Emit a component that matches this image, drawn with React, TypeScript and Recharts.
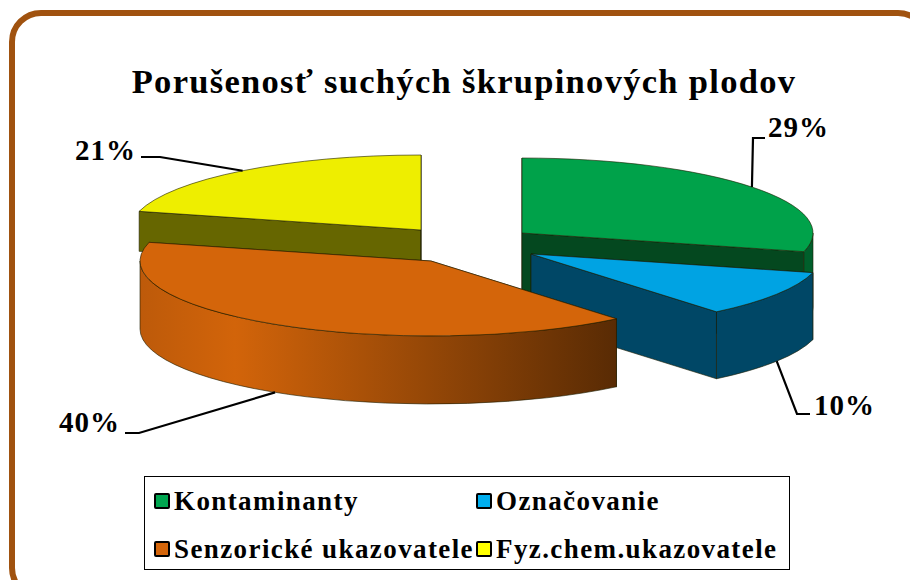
import { Legend, Pie, PieChart } from "recharts";

const CATEGORIES = ["Kontaminanty", "Označovanie", "Senzorické ukazovatele", "Fyz.chem.ukazovatele"];
const SHARES = [29, 10, 40, 21];

// the yellow slice is painted first, so it goes first in the table and the start angle moves back by its share
const PAINT_ORDER = [3, 0, 1, 2];
const TOTAL = SHARES.reduce((a, b) => a + b, 0);
const START_ANGLE = 90 + (360 * SHARES[3]) / TOTAL;
const tableData = PAINT_ORDER.map((i) => ({ name: CATEGORIES[i], value: SHARES[i] }));

const FONT = "'Liberation Serif', serif";
const CX = 475;
const CY = 260;
const RX = 291;
const RY = 75;

type SliceStyle = {
  top: string;
  wall: string;
  cut: string;
  swatch: string;
  dx: number;
  dy: number;
  depth: number;
  leader: [number, number][];
  text: [number, number];
  anchor: "start" | "end";
};

const STYLES: Record<string, SliceStyle> = {
  Kontaminanty: {
    top: "#00a24a", wall: "#005f2b", cut: "#04481f", swatch: "#00a650",
    dx: 47, dy: -27, depth: 74,
    leader: [[753, 138], [765, 138]], text: [768, 130], anchor: "start",
  },
  Označovanie: {
    top: "#00a3e3", wall: "#004766", cut: "#004766", swatch: "#00aeef",
    dx: 56, dy: -6, depth: 67,
    leader: [[797, 414], [810, 414]], text: [814, 408], anchor: "start",
  },
  "Senzorické ukazovatele": {
    top: "#d4650a", wall: "url(#orangeWall)", cut: "#8a4306", swatch: "#d4650a",
    dx: -44, dy: 1, depth: 68,
    leader: [[139, 433], [125, 433]], text: [120, 425], anchor: "end",
  },
  "Fyz.chem.ukazovatele": {
    top: "#eeee00", wall: "#666600", cut: "#666600", swatch: "#ffff00",
    dx: -54, dy: -30, depth: 40,
    leader: [[160, 157], [141, 157]], text: [136, 153], anchor: "end",
  },
};

const LEGEND_ROWS = [
  [0, 1],
  [2, 3],
];

const rad = (deg: number) => (deg * Math.PI) / 180;
const onEllipse = (x: number, y: number, a: number) => [x + RX * Math.cos(rad(a)), y - RY * Math.sin(rad(a))];

// flattens the sector the library computed into a slab seen from above
const SlabSector = (props: any) => {
  const { startAngle, endAngle, name } = props;
  const s = STYLES[name];
  const x = CX + s.dx;
  const y = CY + s.dy;
  const d = s.depth;
  const [x1, y1] = onEllipse(x, y, startAngle);
  const [x2, y2] = onEllipse(x, y, endAngle);
  const large = startAngle - endAngle > 180 ? 1 : 0;
  const line = "#1c1c00";

  const cut = (px: number, py: number) => `M${x},${y}L${px},${py}L${px},${py + d}L${x},${y + d}Z`;

  // only the part of the rim that faces the viewer
  const walls: string[] = [];
  for (const k of [-360, 0, 360]) {
    const hi = Math.min(startAngle, k);
    const lo = Math.max(endAngle, k - 180);
    if (hi > lo) {
      const [ax, ay] = onEllipse(x, y, hi);
      const [bx, by] = onEllipse(x, y, lo);
      walls.push(
        `M${ax},${ay}A${RX},${RY} 0 0 1 ${bx},${by}L${bx},${by + d}A${RX},${RY} 0 0 0 ${ax},${ay + d}Z`,
      );
    }
  }

  return (
    <g>
      <path d={cut(x1, y1)} fill={s.cut} stroke={line} strokeWidth={0.6} />
      <path d={cut(x2, y2)} fill={s.cut} stroke={line} strokeWidth={0.6} />
      {walls.map((w) => (
        <path key={w} d={w} fill={s.wall} stroke={line} strokeWidth={0.6} />
      ))}
      <path
        d={`M${x},${y}L${x1},${y1}A${RX},${RY} 0 ${large} 1 ${x2},${y2}Z`}
        fill={s.top}
        stroke={line}
        strokeWidth={0.6}
      />
    </g>
  );
};

const LeaderLabel = (props: any) => {
  const { midAngle, name, value } = props;
  const s = STYLES[name];
  const [ax, ay0] = onEllipse(CX + s.dx, CY + s.dy, midAngle);
  const ay = Math.sin(rad(midAngle)) < 0 ? ay0 + s.depth : ay0;
  const pts = [[ax, ay], ...s.leader].map((p) => p.join(",")).join(" ");
  return (
    <g>
      <polyline points={pts} fill="none" stroke="#000" strokeWidth={2.2} />
      <text
        x={s.text[0]}
        y={s.text[1]}
        textAnchor={s.anchor}
        dominantBaseline="middle"
        fontFamily={FONT}
        fontWeight="bold"
        fontSize={29}
        letterSpacing={1}
        fill="#000"
      >
        {`${value}%`}
      </text>
    </g>
  );
};

const LegendBox = () => (
  <div
    style={{
      boxSizing: "border-box",
      width: 646,
      height: 94,
      border: "1.5px solid #000",
      background: "#fff",
      fontFamily: FONT,
      fontWeight: "bold",
      fontSize: 27,
      letterSpacing: 1.4,
      color: "#000",
      position: "relative",
    }}
  >
    {LEGEND_ROWS.flatMap((row, r) =>
      row.map((idx, c) => (
        <div
          key={idx}
          style={{
            position: "absolute",
            left: c === 0 ? 9 : 331,
            top: r === 0 ? 2 : 50,
            height: 44,
            display: "flex",
            alignItems: "center",
            whiteSpace: "nowrap",
          }}
        >
          <span
            style={{
              boxSizing: "border-box",
              width: 16,
              height: 16,
              marginRight: 4,
              border: "2px solid #000",
              borderRadius: 2,
              background: STYLES[CATEGORIES[idx]].swatch,
            }}
          />
          {CATEGORIES[idx]}
        </div>
      )),
    )}
  </div>
);

export default function App() {
  return (
    <div style={{ position: "absolute", left: 0, top: 0, width: 910, height: 580, overflow: "hidden", background: "#fff" }}>
      <div
        style={{
          position: "absolute",
          boxSizing: "border-box",
          left: 9,
          top: 10,
          width: 921,
          height: 590,
          border: "6px solid #a0520f",
          borderRadius: 32,
        }}
      />
      <div
        style={{
          position: "absolute",
          left: 0,
          width: 928,
          top: 62,
          textAlign: "center",
          fontFamily: FONT,
          fontWeight: "bold",
          fontSize: 34.5,
          letterSpacing: 1.3,
          color: "#000",
        }}
      >
        Porušenosť suchých škrupinových plodov
      </div>
      <div style={{ position: "absolute", left: 0, top: 0 }}>
        <PieChart width={910} height={580} margin={{ top: 0, right: 0, bottom: 0, left: 0 }}>
          <defs>
            <linearGradient id="orangeWall" x1="0" y1="0" x2="1" y2="0">
              <stop offset="0" stopColor="#bd5a0a" />
              <stop offset="0.2" stopColor="#d2640a" />
              <stop offset="1" stopColor="#592b04" />
            </linearGradient>
          </defs>
          <Pie
            data={tableData}
            dataKey="value"
            nameKey="name"
            cx={CX}
            cy={CY}
            outerRadius={RX}
            startAngle={START_ANGLE}
            endAngle={START_ANGLE - 360}
            shape={SlabSector}
            label={LeaderLabel}
            labelLine={false}
            isAnimationActive={false}
          />
          <Legend
            content={LegendBox}
            layout="horizontal"
            wrapperStyle={{ position: "absolute", left: 144, top: 476, width: 646, bottom: "auto" }}
          />
        </PieChart>
      </div>
    </div>
  );
}
